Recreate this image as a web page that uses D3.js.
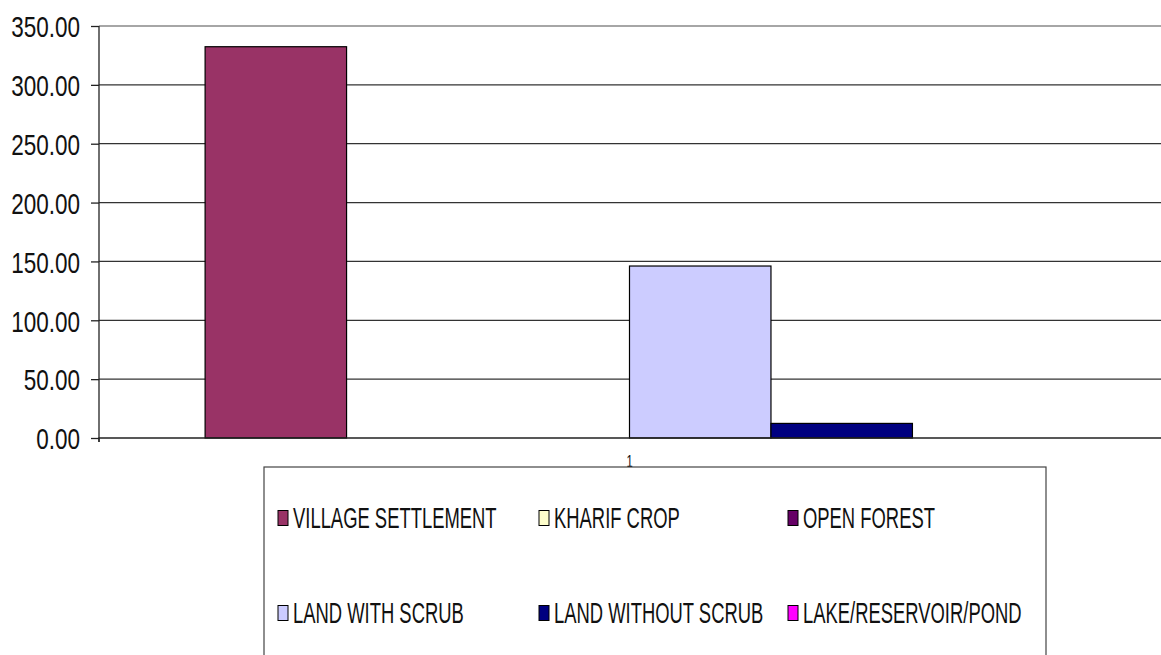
<!DOCTYPE html>
<html>
<head>
<meta charset="utf-8">
<script src="https://cdn.jsdelivr.net/npm/d3@7"></script>
<style>
  body { margin: 0; background: #fff; }
  svg { display: block; font-family: "Liberation Sans", Arial, sans-serif; }
</style>
</head>
<body>
<svg id="chart" width="1161" height="655"></svg>
<script>
// data
var categories = ['1'];
var seriesNames = ['VILLAGE SETTLEMENT', 'KHARIF CROP', 'OPEN FOREST',
                   'LAND WITH SCRUB', 'LAND WITHOUT SCRUB', 'LAKE/RESERVOIR/POND'];
var seriesValues = [332.4, 0, 0, 146.1, 12.4, 0];
var seriesColors = ['#993366', '#FFFFCC', '#660066', '#CCCCFF', '#000080', '#FF00FF'];
var yTicks = [0, 50, 100, 150, 200, 250, 300, 350];

var chart = {
  left: 99,
  right: 1160,
  top: 26,
  bottom: 438,

  init: function() {
    var self = this;
    self.svg = d3.select('#chart');

    self.x0 = d3.scaleBand().domain(categories).range([self.left, self.right]);
    self.x1 = d3.scaleBand().domain(seriesNames)
        .range([0, self.x0.bandwidth()])
        .paddingInner(0).paddingOuter(0.75);
    self.y = d3.scaleLinear().domain([0, 350]).range([self.bottom, self.top]);

    self.drawGrid();
    self.drawBars();
    self.drawAxes();
    self.drawLegend();
  },

  drawGrid: function() {
    var self = this;
    self.svg.append('g').selectAll('line')
        .data(yTicks.filter(function(d) { return d > 0; }))
        .enter().append('line')
        .attr('x1', self.left).attr('x2', 1161)
        .attr('y1', function(d) { return self.y(d); })
        .attr('y2', function(d) { return self.y(d); })
        .attr('stroke', function(d) { return d === 350 ? '#888' : '#333'; })
        .attr('stroke-width', 1.3);
  },

  drawBars: function() {
    var self = this;
    var g = self.svg.append('g')
        .attr('transform', 'translate(' + self.x0('1') + ',0)');
    g.selectAll('rect')
        .data(seriesValues.map(function(v, i) { return {name: seriesNames[i], value: v, color: seriesColors[i]}; })
              .filter(function(d) { return d.value > 0; }))
        .enter().append('rect')
        .attr('x', function(d) { return self.x1(d.name); })
        .attr('y', function(d) { return self.y(d.value); })
        .attr('width', self.x1.bandwidth())
        .attr('height', function(d) { return self.bottom - self.y(d.value); })
        .attr('fill', function(d) { return d.color; })
        .attr('stroke', '#000')
        .attr('stroke-width', 1.2);
  },

  drawAxes: function() {
    var self = this;
    var yAxis = d3.axisLeft(self.y)
        .tickValues(yTicks)
        .tickFormat(d3.format('.2f'))
        .tickSize(8)
        .tickSizeOuter(0);
    var ya = self.svg.append('g')
        .attr('transform', 'translate(' + self.left + ',0)')
        .call(yAxis);
    ya.select('.domain').attr('stroke', '#222').attr('stroke-width', 1.3)
        .attr('d', 'M0,' + self.top + 'V' + (self.bottom + 4));
    ya.selectAll('.tick line').attr('stroke', '#222').attr('stroke-width', 1.3);
    ya.selectAll('.tick text')
        .attr('font-size', 30)
        .attr('fill', '#111')
        .attr('x', -19 / 0.75)
        .attr('dy', '0.36em')
        .attr('transform', 'scale(0.75,1)');

    var xAxis = d3.axisBottom(self.x0).tickSize(0).tickSizeOuter(4);
    var xa = self.svg.append('g')
        .attr('transform', 'translate(0,' + self.bottom + ')')
        .call(xAxis);
    xa.select('.domain').attr('stroke', '#222').attr('stroke-width', 1.3)
        .attr('d', 'M' + self.left + ',4V0H1161');
    xa.selectAll('.tick text')
        .attr('font-size', 16)
        .attr('fill', '#111')
        .attr('x', 0)
        .attr('y', 29)
        .attr('dy', 0)
        .attr('transform', 'scale(0.7,1)');
  },

  drawLegend: function() {
    var self = this;
    var box = {x: 264, y: 467, w: 782, h: 260};
    self.svg.append('rect')
        .attr('x', box.x).attr('y', box.y)
        .attr('width', box.w).attr('height', box.h)
        .attr('fill', '#fff')
        .attr('stroke', '#444')
        .attr('stroke-width', 1.2);

    var colX = [278, 539, 788];
    var rowY = [518, 613];
    var items = self.svg.append('g').selectAll('g')
        .data(seriesNames)
        .enter().append('g')
        .attr('transform', function(d, i) {
          return 'translate(' + colX[i % 3] + ',' + rowY[Math.floor(i / 3)] + ')';
        });
    items.append('rect')
        .attr('x', 0).attr('y', -7.5)
        .attr('width', 10).attr('height', 15)
        .attr('fill', function(d, i) { return seriesColors[i]; })
        .attr('stroke', '#000')
        .attr('stroke-width', 1);
    items.append('text')
        .attr('x', 15 / 0.635)
        .attr('dy', '0.36em')
        .attr('font-size', 29)
        .attr('fill', '#111')
        .attr('transform', 'scale(0.635,1)')
        .text(function(d) { return d; });
  }
};

chart.init();
</script>
</body>
</html>
